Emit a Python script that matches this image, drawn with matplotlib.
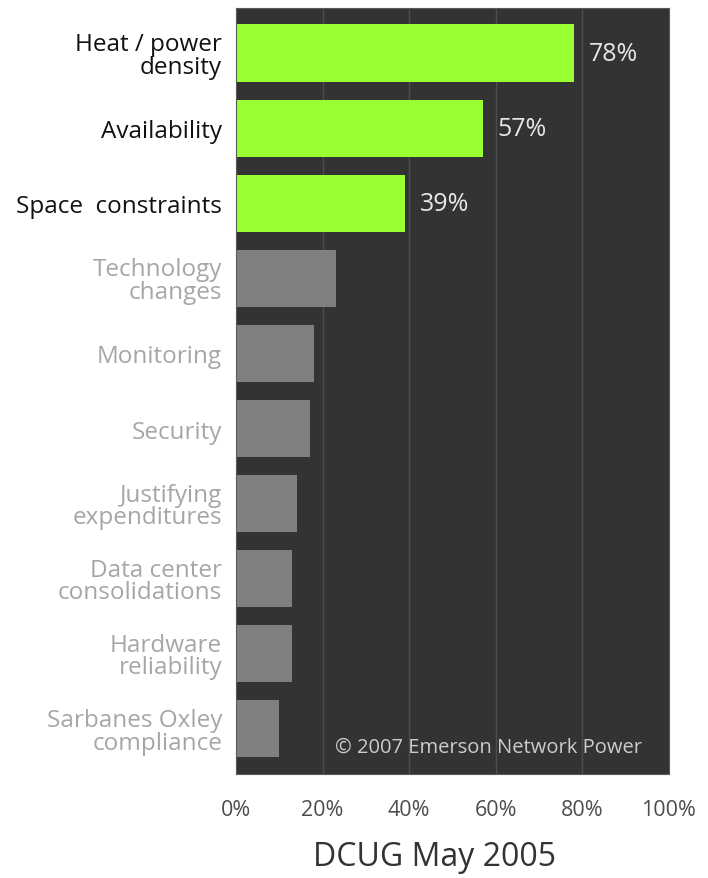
import matplotlib.pyplot as plt
import numpy as np

# datos
categorias = ['Heat / power\ndensity', 'Availability', 'Space  constraints',
              'Technology\nchanges', 'Monitoring', 'Security',
              'Justifying\nexpenditures', 'Data center\nconsolidations',
              'Hardware\nreliability', 'Sarbanes Oxley\ncompliance']
valores = [78, 57, 39, 23, 18, 17, 14, 13, 13, 10]
destacados = [True, True, True, False, False, False, False, False, False, False]
ticks_x = [0, 20, 40, 60, 80, 100]

plt.rcParams['font.family'] = ['Open Sans', 'DejaVu Sans']

fig = plt.figure(figsize=(7.08, 8.79), dpi=100)
ax = fig.add_axes([0.3333, 0.1183, 0.6115, 0.8715])
ax.set_facecolor('#333333')

y = np.arange(len(categorias))
colores = ['#99ff33' if d else '#808080' for d in destacados]
ax.barh(y, valores, height=0.76, color=colores, zorder=2)

ax.set_xlim(0, 100)
ax.set_ylim(len(categorias) - 0.4, -0.6)

for g in ticks_x[1:-1]:
    ax.axvline(g, color='#4d4d4d', lw=1, zorder=1)

# etiquetas de valor solo para las barras destacadas
for yi, v, d in zip(y, valores, destacados):
    if d:
        ax.text(v + 3.4, yi, f'{v}%', va='center', ha='left', fontsize=18,
                color='#e6e6e6')

ax.set_yticks(y)
ax.set_yticklabels(categorias, fontsize=17.5, linespacing=0.92)
for lab, d in zip(ax.get_yticklabels(), destacados):
    lab.set_color('#111111' if d else '#a6a6a6')
    lab.set_ha('right')

ax.set_xticks(ticks_x)
ax.set_xticklabels([f'{t}%' for t in ticks_x], fontsize=15.5, color='#4d4d4d')
ax.tick_params(axis='both', length=0)
ax.tick_params(axis='x', pad=18)
ax.tick_params(axis='y', pad=10)

for s in ax.spines.values():
    s.set_color('#5a5a5a')

ax.text(0.228, 0.035, '\u00a9 2007 Emerson Network Power', transform=ax.transAxes,
        fontsize=14.5, color='#cccccc', ha='left', va='center')

fig.text(0.614, 0.024, 'DCUG May 2005', fontsize=23, color='#333333',
         ha='center', va='center')

fig.savefig('out.png', dpi=100, facecolor='white')
